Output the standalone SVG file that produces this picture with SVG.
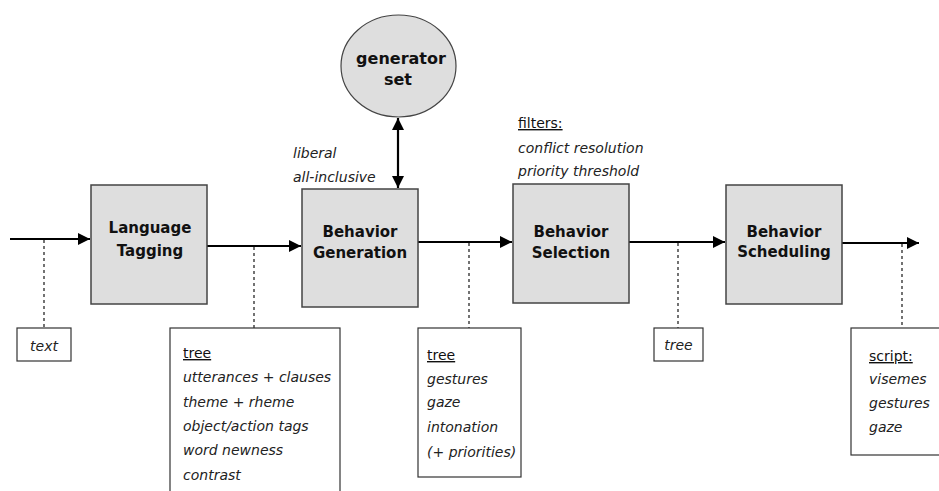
<svg xmlns="http://www.w3.org/2000/svg" width="939" height="491" viewBox="0 0 939 491">
  <style>
    .stage { fill: #dedede; stroke: #444; stroke-width: 1.5; }
    .note { fill: #fff; stroke: #333; stroke-width: 1.2; }
    .flow { stroke: #000; stroke-width: 2.2; fill: none; }
    .tap { stroke: #000; stroke-width: 1.1; stroke-dasharray: 3 3; fill: none; }
    .label { font-family: "DejaVu Sans", sans-serif; font-weight: bold; font-size: 15px; fill: #111; text-anchor: middle; }
    .item { font-family: "DejaVu Sans", sans-serif; font-style: italic; font-size: 14px; fill: #222; }
    .head { font-family: "DejaVu Sans", sans-serif; font-size: 14px; fill: #111; text-decoration: underline; }
  </style>
  <defs>
    <marker id="arrow" viewBox="0 0 12 12" refX="12" refY="6" markerWidth="12" markerHeight="12" markerUnits="userSpaceOnUse" orient="auto-start-reverse">
      <path d="M0,0 L12,6 L0,12 Z" fill="#000"/>
    </marker>
  </defs>

  <rect width="939" height="491" fill="#fff"/>

  <!-- connectors -->
  <g id="connectors">
    <line class="flow" x1="10" y1="239" x2="90" y2="239" marker-end="url(#arrow)"/>
    <line class="flow" x1="207" y1="246" x2="301" y2="246" marker-end="url(#arrow)"/>
    <line class="flow" x1="418" y1="242" x2="512" y2="242" marker-end="url(#arrow)"/>
    <line class="flow" x1="629" y1="242" x2="725" y2="242" marker-end="url(#arrow)"/>
    <line class="flow" x1="842" y1="243" x2="919" y2="243" marker-end="url(#arrow)"/>
    <line class="flow" x1="398" y1="118" x2="398" y2="188" marker-start="url(#arrow)" marker-end="url(#arrow)"/>
    <line class="tap" x1="44" y1="240" x2="44" y2="328"/>
    <line class="tap" x1="254" y1="247" x2="254" y2="328"/>
    <line class="tap" x1="469" y1="243" x2="469" y2="328"/>
    <line class="tap" x1="678" y1="243" x2="678" y2="328"/>
    <line class="tap" x1="902" y1="244" x2="902" y2="328"/>
  </g>

  <!-- processing stages -->
  <g id="language-tagging">
    <rect class="stage" x="91" y="185" width="116" height="119"/>
    <text class="label" x="150" y="233">Language</text>
    <text class="label" x="150" y="256">Tagging</text>
  </g>
  <g id="behavior-generation">
    <rect class="stage" x="302" y="189" width="116" height="118"/>
    <text class="label" x="360" y="237">Behavior</text>
    <text class="label" x="360" y="258">Generation</text>
  </g>
  <g id="behavior-selection">
    <rect class="stage" x="513" y="184" width="116" height="119"/>
    <text class="label" x="571" y="237">Behavior</text>
    <text class="label" x="571" y="258">Selection</text>
  </g>
  <g id="behavior-scheduling">
    <rect class="stage" x="726" y="185" width="116" height="119"/>
    <text class="label" x="784" y="237">Behavior</text>
    <text class="label" x="784" y="257">Scheduling</text>
  </g>
  <g id="generator-set">
    <ellipse class="stage" cx="398.5" cy="66" rx="57.5" ry="51" style="stroke-width:1.2"/>
    <text class="label" x="401" y="64" style="font-size:16px">generator</text>
    <text class="label" x="398" y="85" style="font-size:16px">set</text>
  </g>

  <!-- annotations above stages -->
  <g id="generation-notes">
    <text class="item" x="293" y="158">liberal</text>
    <text class="item" x="293" y="182">all-inclusive</text>
  </g>
  <g id="selection-filters">
    <text class="head" x="518" y="128">filters:</text>
    <text class="item" x="518" y="153">conflict resolution</text>
    <text class="item" x="518" y="176">priority threshold</text>
  </g>

  <!-- data passed between stages -->
  <g id="data-text">
    <rect class="note" x="17" y="328" width="54" height="33"/>
    <text class="item" x="44" y="351" text-anchor="middle">text</text>
  </g>
  <g id="data-tagged-tree">
    <rect class="note" x="170" y="328" width="170" height="170"/>
    <text class="head" x="183" y="358">tree</text>
    <text class="item" x="183" y="382">utterances + clauses</text>
    <text class="item" x="183" y="407">theme + rheme</text>
    <text class="item" x="183" y="431">object/action tags</text>
    <text class="item" x="183" y="455">word newness</text>
    <text class="item" x="183" y="480">contrast</text>
  </g>
  <g id="data-behavior-tree">
    <rect class="note" x="418" y="328" width="103" height="149"/>
    <text class="head" x="427" y="360">tree</text>
    <text class="item" x="427" y="384">gestures</text>
    <text class="item" x="427" y="407">gaze</text>
    <text class="item" x="427" y="432">intonation</text>
    <text class="item" x="427" y="457">(+ priorities)</text>
  </g>
  <g id="data-filtered-tree">
    <rect class="note" x="654" y="328" width="49" height="33"/>
    <text class="item" x="678.5" y="350" text-anchor="middle">tree</text>
  </g>
  <g id="data-script">
    <rect class="note" x="851" y="328" width="100" height="127"/>
    <text class="head" x="869" y="361">script:</text>
    <text class="item" x="869" y="384">visemes</text>
    <text class="item" x="869" y="408">gestures</text>
    <text class="item" x="869" y="432">gaze</text>
  </g>
</svg>
